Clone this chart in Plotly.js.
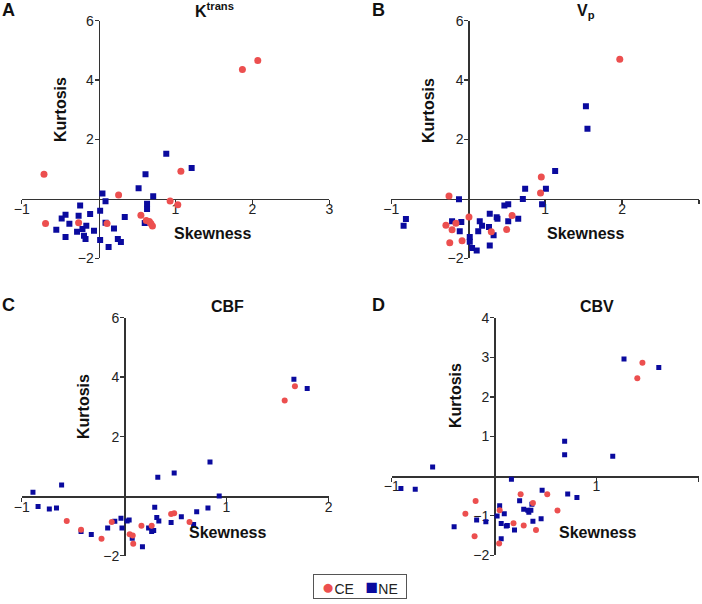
<!DOCTYPE html>
<html>
<head>
<meta charset="utf-8">
<script src="https://cdn.plot.ly/plotly-3.0.1.min.js"></script>
<style>
    body { margin: 0; background: #fff; }
    #chart { width: 702px; height: 604px; }
</style>
</head>
<body>
<div id="chart"></div>
<script>
// skewness / kurtosis pairs
var ktransCeX = [-0.71, 1.87, 2.07, 1.07, 0.26, 0.93, 1.03, -0.69, -0.26, 0.11, 0.55, 0.62, 0.66, 0.68, 0.70];
var ktransCeY = [0.83, 4.36, 4.66, 0.93, 0.13, -0.07, -0.20, -0.83, -0.80, -0.83, -0.55, -0.73, -0.76, -0.83, -0.91];
var ktransNeX = [0.88, 1.21, 0.61, 0.52, 0.71, 0.05, 0.09, 0.63, 0.63, 0.02, -0.24, -0.26, -0.43, -0.48, -0.38, -0.11,
    -0.16, -0.21, -0.55, -0.28, -0.19, -0.43, -0.17, -0.06, 0.02, 0.13, 0.25, 0.29, 0.20, 0.34, 0.60, 0.09];
var ktransNeY = [1.52, 1.04, 0.83, 0.36, 0.09, 0.18, -0.08, -0.16, -0.34, -0.40, -0.22, -0.57, -0.53, -0.66, -0.84, -0.51,
    -0.90, -1.01, -1.04, -1.11, -1.24, -1.28, -1.35, -1.07, -1.38, -1.62, -1.35, -1.45, -1.00, -0.61, -0.81, -0.80];

var vpCeX = [1.97, 0.95, 0.94, -0.25, 0.01, 0.57, 0.50, 0.30, -0.16, -0.29, -0.21, -0.24, -0.08];
var vpCeY = [4.70, 0.74, 0.20, 0.10, -0.61, -0.56, -1.03, -1.11, -0.82, -0.89, -1.04, -1.48, -1.41];
var vpNeX = [1.53, 1.55, 1.13, 0.74, 1.01, 0.71, 0.96, 0.47, 0.52, -0.12, -0.81, -0.84, -0.21, -0.09, -0.11,
    0.28, 0.37, 0.38, 0.15, 0.18, 0.13, 0.27, 0.33, 0.52, 0.65, 0.02, 0.02, 0.05, 0.11, 0.28];
var vpNeY = [3.12, 2.36, 0.94, 0.34, 0.34, 0.00, -0.18, -0.22, -0.18, -0.01, -0.68, -0.90, -0.75, -0.78, -1.09,
    -0.50, -0.62, -0.67, -0.75, -0.90, -1.09, -0.95, -1.22, -0.75, -0.67, -1.28, -1.44, -1.65, -1.74, -1.57];

var cbfCeX = [1.67, 1.57, -0.56, -0.42, -0.22, -0.12, 0.055, 0.085, 0.09, 0.17, 0.27, 0.46, 0.49, 0.64];
var cbfCeY = [3.70, 3.22, -0.83, -1.13, -1.43, -0.87, -1.28, -1.32, -1.60, -0.99, -0.99, -0.60, -0.57, -0.87];
var cbfNeX = [1.66, 1.79, 0.84, 0.49, 0.33, -0.61, -0.89, 0.93, -0.84, -0.73, -0.66, 0.30, 0.82, 0.71, 0.56, 0.32,
    0.34, 0.46, 0.68, -0.03, -0.09, 0.03, 0.05, -0.16, -0.02, 0.24, 0.27, 0.29, -0.42, -0.32, 0.08, 0.18];
var cbfNeY = [3.93, 3.62, 1.15, 0.78, 0.64, 0.38, 0.13, 0.01, -0.35, -0.43, -0.40, -0.37, -0.40, -0.52, -0.69, -0.72,
    -0.83, -0.88, -0.95, -0.74, -0.84, -0.83, -0.80, -1.07, -1.07, -1.07, -1.19, -1.15, -1.19, -1.29, -1.41, -1.70];

var cbvCeX = [1.45, 1.40, -0.18, -0.28, -0.19, 0.055, 0.05, 0.26, 0.38, 0.52, 0.62, 0.19, 0.29, 0.41];
var cbvCeY = [2.86, 2.47, -0.63, -0.95, -1.52, -0.86, -1.70, -0.46, -0.68, -0.46, -0.87, -1.19, -1.25, -1.36];
var cbvNeX = [1.27, 1.61, 0.69, 0.69, 1.16, -0.60, 0.17, -0.91, -0.77, 0.47, 0.72, 0.81, 0.25, 0.37, 0.055, 0.29,
    0.33, 0.36, 0.34, 0.10, 0.03, -0.17, -0.08, 0.07, 0.12, 0.13, 0.20, 0.38, 0.46, -0.39, 0.07];
var cbvNeY = [2.96, 2.74, 0.88, 0.54, 0.50, 0.23, -0.08, -0.31, -0.33, -0.36, -0.45, -0.54, -0.62, -0.71, -0.75, -0.84,
    -0.86, -0.86, -0.91, -0.95, -1.01, -1.11, -1.15, -1.20, -1.26, -1.25, -1.36, -1.14, -1.08, -1.28, -1.58];

var W = 702, H = 604;
var red = '#ec4f4f';
var blue = '#0a0a9e';

// panel boxes in pixels: [left, right, top, bottom], plus axis ranges
var panels = [
    {box: [21.7, 329.3, 20.7, 258.3], xr: [-1, 3], yr: [-2, 6], xt: [-1, 1, 2, 3], yt: [-2, 2, 4, 6], size: 6},
    {box: [391.3, 699, 20.7, 258.3], xr: [-1, 3], yr: [-2, 6], xt: [-1, 1, 2, 3], yt: [-2, 2, 4, 6], size: 6},
    {box: [21.7, 328.7, 317.7, 555.7], xr: [-1, 2], yr: [-2, 6], xt: [-1, 1, 2], yt: [-2, 2, 4, 6], size: 5},
    {box: [391.7, 698.7, 317.7, 555.3], xr: [-1, 2], yr: [-2, 4], xt: [-1, 1, 2], yt: [-2, -1, 1, 2, 3, 4], size: 5}
];
var ceData = [[ktransCeX, ktransCeY], [vpCeX, vpCeY], [cbfCeX, cbfCeY], [cbvCeX, cbvCeY]];
var neData = [[ktransNeX, ktransNeY], [vpNeX, vpNeY], [cbfNeX, cbfNeY], [cbvNeX, cbvNeY]];

function fmt(v) {
    return v < 0 ? '\u2212' + Math.abs(v) : String(v);
}

var traces = [];
var layout = {
    width: W,
    height: H,
    margin: {t: 0, r: 0, b: 0, l: 0},
    paper_bgcolor: '#fff',
    plot_bgcolor: 'rgba(0,0,0,0)',
    font: {family: 'Liberation Sans, Arial, sans-serif', size: 14, color: '#222'},
    showlegend: false,
    annotations: []
};

for (let i = 0; i < panels.length; i++) {
    let p = panels[i];
    let sfx = i === 0 ? '' : String(i + 1);
    let xd = [p.box[0] / W, p.box[1] / W];
    let yd = [1 - p.box[3] / H, 1 - p.box[2] / H];
    // axes cross at zero, like the original spreadsheet charts
    let xPos = xd[0] + (0 - p.xr[0]) / (p.xr[1] - p.xr[0]) * (xd[1] - xd[0]);
    let yPos = yd[0] + (0 - p.yr[0]) / (p.yr[1] - p.yr[0]) * (yd[1] - yd[0]);

    layout['xaxis' + sfx] = {
        domain: xd, range: p.xr, anchor: 'free', position: yPos,
        showgrid: false, zeroline: false, showline: true, linecolor: '#333', linewidth: 1.5,
        ticks: 'outside', ticklen: 4, tickwidth: 1.5, tickcolor: '#333',
        tickvals: p.xt, ticktext: p.xt.map(fmt), ticklabelstandoff: -7,
        layer: 'below traces', fixedrange: true
    };
    layout['yaxis' + sfx] = {
        domain: yd, range: p.yr, anchor: 'free', position: xPos,
        showgrid: false, zeroline: false, showline: true, linecolor: '#333', linewidth: 1.5,
        ticks: 'outside', ticklen: 4, tickwidth: 1.5, tickcolor: '#333',
        tickvals: p.yt, ticktext: p.yt.map(fmt), ticklabelstandoff: -2,
        layer: 'below traces', fixedrange: true
    };

    traces.push({
        x: neData[i][0], y: neData[i][1],
        xaxis: 'x' + sfx, yaxis: 'y' + sfx,
        type: 'scatter', mode: 'markers', name: 'NE',
        marker: {symbol: 'square', size: p.size, color: blue}
    });
    traces.push({
        x: ceData[i][0], y: ceData[i][1],
        xaxis: 'x' + sfx, yaxis: 'y' + sfx,
        type: 'scatter', mode: 'markers', name: 'CE',
        marker: {symbol: 'circle', size: p.size + 1, color: red}
    });
}

// titles, panel letters and the in-plot axis titles (pixel positions)
var bold = {family: 'Liberation Sans, Arial, sans-serif', size: 16, color: '#111'};
var letterFont = {family: 'Liberation Sans, Arial, sans-serif', size: 18, color: '#111'};
var texts = [
    ['<b>A</b>', 8, 10, letterFont, 0], ['<b>B</b>', 378, 10, letterFont, 0],
    ['<b>C</b>', 8, 305, letterFont, 0], ['<b>D</b>', 378, 305, letterFont, 0],
    ['<b>K<sup>trans</sup></b>', 214, 10, bold, 0], ['<b>V<sub>p</sub></b>', 586, 12, bold, 0],
    ['<b>CBF</b>', 227, 306, bold, 0], ['<b>CBV</b>', 597, 306, bold, 0],
    ['<b>Kurtosis</b>', 61, 110, bold, -90], ['<b>Skewness</b>', 213, 233, bold, 0],
    ['<b>Kurtosis</b>', 428, 111, bold, -90], ['<b>Skewness</b>', 585, 233, bold, 0],
    ['<b>Kurtosis</b>', 83, 407, bold, -90], ['<b>Skewness</b>', 227, 532, bold, 0],
    ['<b>Kurtosis</b>', 455, 396, bold, -90], ['<b>Skewness</b>', 597, 532, bold, 0]
];
texts.forEach(function(t) {
    layout.annotations.push({
        text: t[0], xref: 'paper', yref: 'paper',
        x: t[1] / W, y: 1 - t[2] / H, xanchor: 'center', yanchor: 'middle',
        showarrow: false, font: t[3], textangle: t[4], borderpad: 0
    });
});

// compact boxed key under the panels
layout.annotations.push({
    text: '\u00A0\u00A0<span style="color:' + red + ';font-size:21px">\u25CF</span>CE\u00A0\u00A0\u00A0' +
        '<span style="color:' + blue + ';font-size:21px">\u25A0</span>NE\u00A0\u00A0',
    xref: 'paper', yref: 'paper', x: 360 / W, y: 1 - 586.5 / H,
    xanchor: 'center', yanchor: 'middle', showarrow: false,
    font: {family: 'Liberation Sans, Arial, sans-serif', size: 14, color: '#222'},
    bordercolor: '#555', borderwidth: 1, borderpad: 0, bgcolor: '#fff'
});

Plotly.newPlot('chart', traces, layout, {displayModeBar: false, staticPlot: true});
</script>
</body>
</html>
